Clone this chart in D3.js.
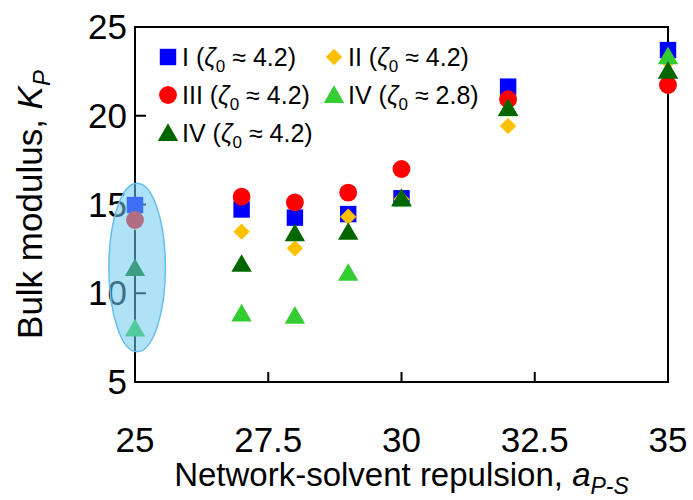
<!DOCTYPE html>
<html>
<head>
<meta charset="utf-8">
<script src="https://cdn.jsdelivr.net/npm/d3@7"></script>
<style>
  body { margin: 0; background: #fff; }
  text { font-family: "Liberation Sans", Arial, sans-serif; }
</style>
</head>
<body>
<div id="chart"></div>
<script>
// network-solvent repulsion values (x)
const xValues = [25, 27, 28, 29, 30, 32, 35]
// bulk modulus per series
const seriesI = [14.97, 14.72, 14.26, 14.46, 15.35, 21.64, 23.70]
const seriesII = [14.0, 13.47, 12.53, 14.31, 15.30, 19.42, 23.05]
const seriesIII = [14.13, 15.44, 15.12, 15.67, 17.0, 20.93, 21.73]
const seriesIV28 = [7.9, 8.74, 8.62, 11.03, 15.2, 20.3, 23.24]
const seriesIV42 = [11.3, 11.54, 13.26, 13.34, 15.25, 20.32, 22.42]

const seriesNames = ["I", "II", "III", "IV", "IV"]
const seriesZeta = ["4.2", "4.2", "4.2", "2.8", "4.2"]
const seriesColors = ["#0000ff", "#ffc000", "#ff0000", "#33cc33", "#006600"]
const xTicks = [25, 27.5, 30, 32.5, 35]
const yTicks = [5, 10, 15, 20, 25]
// highlighted region around a = 25 (data units)
const ellipse = {cx: 25.04, cy: 11.45, rx: 0.53, ry: 4.75}

let width = 693,
    height = 500,
    margin = {top: 27, right: 25, bottom: 118, left: 135}

let svg = d3.select("#chart")
    .append("svg")
    .attr("width", width)
    .attr("height", height)

let x = d3.scaleLinear().domain([25, 35]).range([margin.left, width - margin.right])
let y = d3.scaleLinear().domain([5, 25]).range([height - margin.bottom, margin.top])

// diamond = square turned 45 degrees
let symbols = [d3.symbolSquare, d3.symbolSquare, d3.symbolCircle, d3.symbolTriangle, d3.symbolTriangle]
let rotations = [0, 45, 0, 0, 0]
let sizes = [270, 135, 250, 180, 180]
let allSeries = [seriesI, seriesII, seriesIII, seriesIV28, seriesIV42]

// frame
let frame = svg.append("g")
    .attr("stroke", "black")
    .attr("stroke-width", 2)
frame.append("path")
    .attr("fill", "none")
    .attr("d", `M${x(25)},${y(25)} H${x(35)} V${y(5)} H${x(25)} Z`)

// inward ticks
xTicks.slice(1, -1).forEach(t => {
    frame.append("line")
        .attr("x1", x(t)).attr("x2", x(t))
        .attr("y1", y(5)).attr("y2", y(5) - 10)
})
yTicks.slice(1, -1).forEach(t => {
    frame.append("line")
        .attr("x1", x(25)).attr("x2", x(25) + 11)
        .attr("y1", y(t)).attr("y2", y(t))
})

// tick labels
svg.append("g").selectAll("text")
    .data(xTicks)
    .enter()
    .append("text")
    .attr("x", d => x(d))
    .attr("y", y(5) + 70)
    .attr("text-anchor", "middle")
    .attr("font-size", 35)
    .text(d => d)
svg.append("g").selectAll("text")
    .data(yTicks)
    .enter()
    .append("text")
    .attr("x", x(25) - 8)
    .attr("y", d => y(d) + 12)
    .attr("text-anchor", "end")
    .attr("font-size", 35)
    .text(d => d)

// points
let pointG = svg.append("g")
allSeries.forEach((vals, s) => {
    pointG.selectAll(`.pt-${s}`)
        .data(vals.map((v, i) => ({x: xValues[i], y: v})))
        .enter()
        .append("path")
        .attr("class", `pt-${s}`)
        .attr("transform", d => `translate(${x(d.x)},${y(d.y)}) rotate(${rotations[s]})`)
        .attr("d", d3.symbol().type(symbols[s]).size(sizes[s]))
        .attr("fill", seriesColors[s])
})

// ellipse on top
svg.append("ellipse")
    .attr("cx", x(ellipse.cx))
    .attr("cy", y(ellipse.cy))
    .attr("rx", x(25 + ellipse.rx) - x(25))
    .attr("ry", y(0) - y(ellipse.ry))
    .attr("fill", "rgb(110,200,240)")
    .attr("fill-opacity", 0.55)
    .attr("stroke", "rgb(100,190,240)")
    .attr("stroke-width", 1.5)

// legend
let legendPos = [[168, 57], [334, 57], [168, 95], [334, 95], [168, 133]]
let legend = svg.append("g")
seriesNames.forEach((name, i) => {
    let [lx, ly] = legendPos[i]
    legend.append("path")
        .attr("transform", `translate(${lx},${ly + (i >= 3 ? 2 : 0)}) rotate(${rotations[i]})`)
        .attr("d", d3.symbol().type(symbols[i]).size(sizes[i]))
        .attr("fill", seriesColors[i])
    let t = legend.append("text")
        .attr("x", lx + 14)
        .attr("y", ly + 9)
        .attr("font-size", 25)
    t.append("tspan").text(`${name} (`)
    t.append("tspan").attr("font-style", "italic").text("ζ")
    t.append("tspan").attr("font-size", 17).attr("dy", 6).text("0")
    t.append("tspan").attr("dy", -6).text(` ≈ ${seriesZeta[i]})`)
})

// axis titles
let xt = svg.append("text")
    .attr("x", (x(25) + x(35)) / 2)
    .attr("y", 486)
    .attr("text-anchor", "middle")
    .attr("font-size", 33)
xt.append("tspan").text("Network-solvent repulsion, ")
xt.append("tspan").attr("font-style", "italic").text("a")
xt.append("tspan").attr("font-style", "italic").attr("font-size", 23).attr("dy", 8).text("P-S")

let yt = svg.append("text")
    .attr("transform", `translate(42,${(y(5) + y(25)) / 2}) rotate(-90)`)
    .attr("text-anchor", "middle")
    .attr("font-size", 35)
yt.append("tspan").text("Bulk modulus, ")
yt.append("tspan").attr("font-style", "italic").text("K")
yt.append("tspan").attr("font-style", "italic").attr("font-size", 24).attr("dy", 8).text("P")
</script>
</body>
</html>
